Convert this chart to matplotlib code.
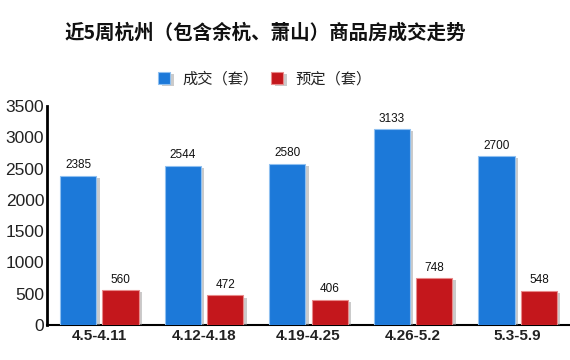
import matplotlib
matplotlib.use("Agg")
import matplotlib.pyplot as plt
import matplotlib.patheffects as pe
import numpy as np

plt.rcParams['font.family'] = ['Noto Sans CJK SC', 'DejaVu Sans']

categories = ["4.5-4.11", "4.12-4.18", "4.19-4.25", "4.26-5.2", "5.3-5.9"]
deals = [2385, 2544, 2580, 3133, 2700]
reserved = [560, 472, 406, 748, 548]
series_names = ["成交（套）", "预定（套）"]
title = "近5周杭州（包含余杭、萧山）商品房成交走势"
yticks = [0, 500, 1000, 1500, 2000, 2500, 3000, 3500]

blue = "#1c79d9"
red = "#c4171c"
num_font = ["Liberation Sans", "DejaVu Sans"]

fig = plt.figure(figsize=(5.7, 3.6), dpi=100)
ax = fig.add_axes([47/570, 1-325/360, 1-47/570, (325-106)/360])

x = np.arange(len(categories))
w = 0.345
gap = 0.06
shadow = [pe.SimplePatchShadow(offset=(2.5, -1.5), shadow_rgbFace="#999999", alpha=0.5), pe.Normal()]
b1 = ax.bar(x - (w + gap)/2, deals, w, color=blue, edgecolor="#8fc0f0", linewidth=0.8,
            path_effects=shadow, label=series_names[0], zorder=3)
b2 = ax.bar(x + (w + gap)/2, reserved, w, color=red, edgecolor="#e88a8a", linewidth=0.8,
            path_effects=shadow, label=series_names[1], zorder=3)

for bars, vals in ((b1, deals), (b2, reserved)):
    for r, v in zip(bars, vals):
        ax.text(r.get_x() + r.get_width()/2, v + 70, str(v), ha="center", va="bottom",
                fontsize=8.5, color="#111111", family=num_font)

ax.set_xlim(-0.5, len(categories) - 0.5)
ax.set_ylim(0, 3500)
ax.set_yticks(yticks)
ax.set_yticklabels([str(t) for t in yticks], fontsize=12.5, color="#222222", family=num_font)
ax.set_xticks(x)
ax.set_xticklabels(categories, fontsize=11, fontweight="bold", color="#222222", family=num_font)
ax.tick_params(axis="both", length=0, pad=3)
ax.tick_params(axis="y", pad=2)
for s in ("top", "right"):
    ax.spines[s].set_visible(False)
ax.spines["left"].set_linewidth(2)
ax.spines["bottom"].set_linewidth(1.5)
ax.spines["left"].set_color("black")
ax.spines["bottom"].set_color("black")

fig.text(265/570, 1-33/360, title, ha="center", va="center", fontsize=14, color="#111111",
         fontweight="bold")
leg = fig.legend(handles=[b1, b2], labels=series_names, loc="center", bbox_to_anchor=(265/570, 1-79/360),
                 ncol=2, frameon=False, fontsize=11, handlelength=0.8, handleheight=0.8,
                 columnspacing=0.8, handletextpad=0.8)
for t in leg.get_texts():
    t.set_color("#222222")

fig.savefig("out.png", dpi=100)
